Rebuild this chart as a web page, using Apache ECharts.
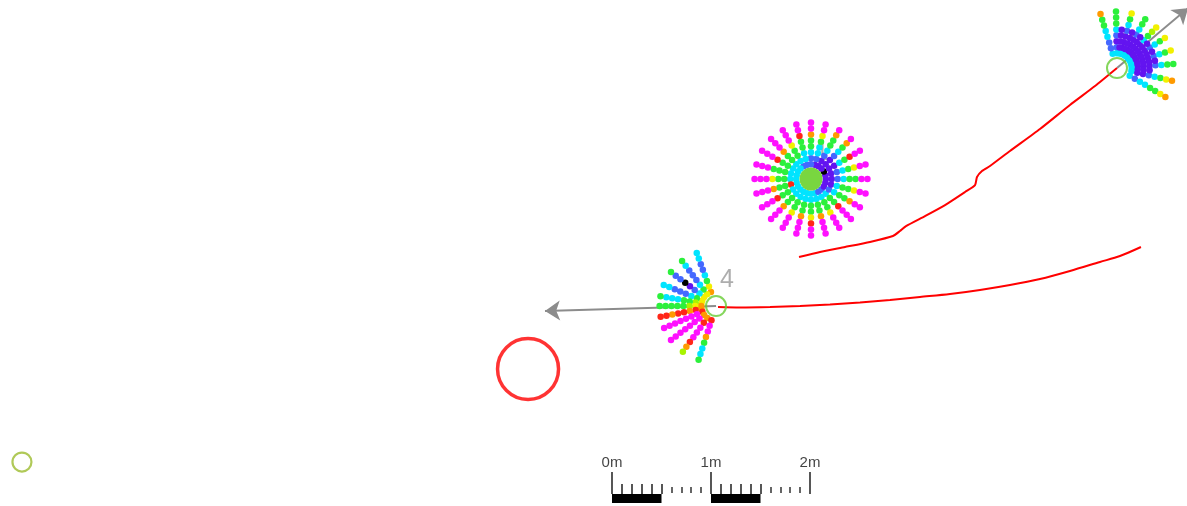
<!DOCTYPE html>
<html><head><meta charset="utf-8">
<script src="https://cdn.jsdelivr.net/npm/echarts/dist/echarts.min.js"></script>
<style>html,body{margin:0;padding:0;background:#fff}#c{width:1187px;height:506px}</style>
</head><body><div id="c"></div>
<script>
// ---- data (metres) ----
const xRange = [-6.1818, 5.8081];
const yRange = [0, 5.1111];

const agentIds = ['4', '1', '2'];
const agentPos = [[1.051, 2.020], [2.010, 3.303], [5.101, 4.424]];
const agentFilled = [false, true, false];
const otherAgentPos = [[-5.960, 0.444]];
const goalPos = [[-0.848, 1.384]];

const trajA = [[1.889,2.515],[2.101,2.566],[2.354,2.616],[2.606,2.667],[2.838,2.727],[2.909,2.778],[2.970,2.828],[3.162,2.929],[3.364,3.040],[3.566,3.172],[3.667,3.242],[3.687,3.323],[3.737,3.384],[3.818,3.434],[4.020,3.586],[4.323,3.808],[4.626,4.051],[4.879,4.242],[5.101,4.424]];
const trajB = [[1.071,2.010],[1.293,2.005],[1.596,2.010],[1.899,2.020],[2.202,2.035],[2.505,2.056],[2.808,2.081],[3.111,2.111],[3.414,2.141],[3.717,2.182],[4.020,2.232],[4.323,2.293],[4.626,2.374],[4.929,2.465],[5.131,2.525],[5.343,2.616]];

const arrowFrom = [[1.051, 2.020], [5.101, 4.424]];
const arrowTo = [[-0.677, 1.970], [5.820, 5.030]];

// range samples along each ray
const rayRadii = [0.15, 0.21, 0.27, 0.33, 0.39, 0.45, 0.51, 0.57];

const fan0Angles = [110, 127, 143, 158, 170, 180, 191, 203, 217, 234, 252];
const fan0Colors = ['OYGCBBCC','YGCBBBCG','YCBPKBBG','YGCBBBCC','YLGGCCCG','OYLGGGGG','ORORRORR','RMMMMMMM','OMMMMMMM','ORMMMROL','RMMOGCCG'];

const fan1Angles = [0,15,30,45,60,75,90,105,120,135,150,165,180,195,210,225,240,255,270,285,300,315,330,345];
const fan1Colors = ['PPBCGGMM','PPBCGYMM','KPPCGRMM','PPPBCGOM','PPBCGGOM','PBCCGYMM','BBCGGOMM','BCCGGRMM','BCGGYMMM','CCGGOMMM','CCGGRMMM','CCGGGMMM','CCGGYMMM','CRGGOMMM','CCGGRMMM','CCGGOMMM','CCGGYMMM','CCGGOMMM','CCGGYRMM','CCGGOMMM','BCGGYMMM','BCGGRMMM','PBCGGOMM','PPCGGYMM'];

const fan2Angles = [107, 91, 75, 60, 46, 32, 18, 4, -13, -31, 83, 67, 53, 39, 25, 11, -4];
const fan2Colors = ['CBBCCGGO','CBPBCGGG','CPPPBCGY','CPPPBCGG','CPPPCGLY','CPPPBCGY','CPPPBCGY','CPPPBCGG','CPPBCGYO','CBCCGGYO','CPPPP','CPPPP','CPPPP','CPPPP','CPPPP','CPPPP','CPPP'];

const scaleMajor = [0, 1, 2];
const scaleLabels = ['0m', '1m', '2m'];
const scaleBars = [[0, 0.5], [1, 1.5]];
const scaleMinorOnBar = [0.1, 0.2, 0.3, 0.4, 0.5, 1.1, 1.2, 1.3, 1.4, 1.5];
const scaleMinorDotted = [0.6, 0.7, 0.8, 0.9, 1.6, 1.7, 1.8, 1.9];
const scaleY = {barMid: 0.0758, barTop: 0.1212, majorTop: 0.3434, minorTop: 0.2222, dotBottom: 0.1313, dotTop: 0.1919};

// ---- styling ----
const palette = {P:'#6314f0', B:'#4468ff', C:'#00e4ff', G:'#2cf03c', L:'#a8f400', Y:'#f2f000', O:'#ff9a00', R:'#ff2618', M:'#ff10ff', K:'#000000'};

function fanPoints(center, angles, colors) {
  const out = [];
  angles.forEach((a, i) => {
    const t = a * Math.PI / 180;
    colors[i].split('').forEach((code, k) => {
      const r = rayRadii[k];
      out.push({value: [center[0] + r * Math.cos(t), center[1] + r * Math.sin(t)], itemStyle: {color: palette[code]}});
    });
  });
  return out;
}
const fanData = [].concat(
  fanPoints(agentPos[0], fan0Angles, fan0Colors),
  fanPoints(agentPos[1], fan1Angles, fan1Colors),
  fanPoints(agentPos[2], fan2Angles, fan2Colors)
);

const scaleLines = [];
scaleMajor.forEach(x => scaleLines.push({coords: [[x, scaleY.barTop], [x, scaleY.majorTop]]}));
scaleMinorOnBar.forEach(x => scaleLines.push({coords: [[x, scaleY.barTop], [x, scaleY.minorTop]]}));
const scaleDots = scaleMinorDotted.map(x => ({coords: [[x, scaleY.dotBottom], [x, scaleY.dotTop]]}));

const chart = echarts.init(document.getElementById('c'), null, {renderer: 'canvas'});
chart.setOption({
  animation: false,
  grid: {left: 0, right: 0, top: 0, bottom: 0},
  xAxis: {type: 'value', min: xRange[0], max: xRange[1], show: false},
  yAxis: {type: 'value', min: yRange[0], max: yRange[1], show: false},
  series: [
    {type: 'line', data: trajA, showSymbol: false, smooth: 0.2, z: 2, lineStyle: {color: '#ff0000', width: 2}},
    {type: 'line', data: trajB, showSymbol: false, smooth: 0.3, z: 2, lineStyle: {color: '#ff0000', width: 2}},
    {type: 'lines', coordinateSystem: 'cartesian2d', z: 2,
      symbol: ['none', 'arrow'], symbolSize: 15,
      lineStyle: {color: '#8c8c8c', width: 2, opacity: 1},
      data: arrowFrom.map((p, i) => ({coords: [p, arrowTo[i]]}))},
    {type: 'scatter', z: 2, symbolSize: 1, itemStyle: {color: 'rgba(0,0,0,0)'},
      data: agentPos.map((p, i) => ({value: p, name: agentIds[i]})),
      label: {show: true, position: 'inside', offset: [11, -26], formatter: '{b}', color: '#999', fontSize: 25, fontFamily: 'Liberation Sans'}},
    {type: 'scatter', data: fanData, symbolSize: 6.5, z: 3, itemStyle: {opacity: 1}},
    {type: 'scatter', z: 4,
      data: agentPos.map((p, i) => ({value: p, itemStyle: agentFilled[i]
        ? {color: '#58cc10', borderWidth: 0}
        : {color: 'rgba(0,0,0,0)', borderColor: '#66cc33', borderWidth: 2}, symbolSize: agentFilled[i] ? 23 : 20})),
    },
    {type: 'scatter', z: 4, symbolSize: 19, data: otherAgentPos,
      itemStyle: {color: 'rgba(0,0,0,0)', borderColor: '#9cbb2e', borderWidth: 2.2}},
    {type: 'scatter', z: 4, symbolSize: 61, data: goalPos,
      itemStyle: {color: 'rgba(0,0,0,0)', borderColor: '#ff0000', borderWidth: 3.5}},
    {type: 'lines', coordinateSystem: 'cartesian2d', z: 2,
      lineStyle: {color: '#000', width: 9, opacity: 1, cap: 'butt'},
      data: scaleBars.map(b => ({coords: [[b[0], scaleY.barMid], [b[1], scaleY.barMid]]}))},
    {type: 'lines', coordinateSystem: 'cartesian2d', z: 2,
      lineStyle: {color: '#444', width: 1.8, opacity: 1},
      data: scaleLines},
    {type: 'lines', coordinateSystem: 'cartesian2d', z: 2,
      lineStyle: {color: '#555', width: 1.8, opacity: 1},
      data: scaleDots},
    {type: 'scatter', z: 5, symbolSize: 1, itemStyle: {color: 'rgba(0,0,0,0)'},
      data: scaleMajor.map((x, i) => ({value: [x, scaleY.majorTop], name: scaleLabels[i]})),
      label: {show: true, position: 'top', distance: 1, formatter: '{b}', color: '#111', fontSize: 15, fontFamily: 'Liberation Sans'}}
  ]
});
</script>
</body></html>
